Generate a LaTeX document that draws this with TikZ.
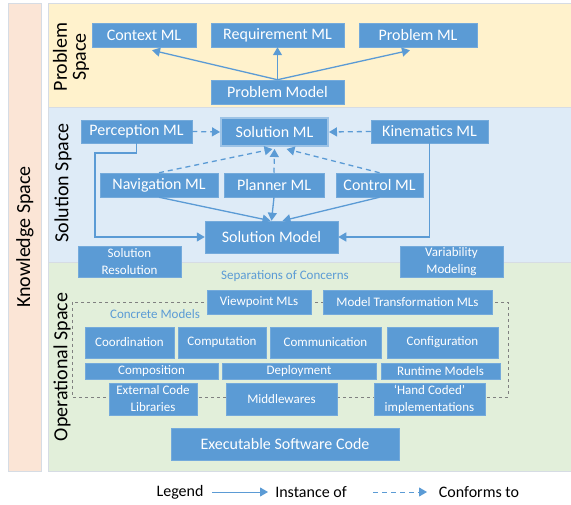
\documentclass[tikz,border=0pt]{standalone}
\usepackage{fontspec}
\setmainfont{Carlito}
\usetikzlibrary{arrows.meta}
\definecolor{nodeblue}{HTML}{5B9BD5}
\definecolor{glowblue}{HTML}{9DC3E6}
\definecolor{probfill}{HTML}{FFF2CC}
\definecolor{solfill}{HTML}{DEEBF7}
\definecolor{opfill}{HTML}{E2EFDA}
\definecolor{knowfill}{HTML}{FBE5D6}
\definecolor{panelline}{HTML}{D6DCE4}
\tikzset{
  box/.style={fill=nodeblue, draw=nodeblue!85!white, line width=0.5pt, text=white,
    inner sep=0pt, align=center, font=\fontsize{16}{18}\selectfont},
  smallbox/.style={box, font=\fontsize{13}{17}\selectfont},
  panel/.style={draw=panelline, line width=0.6pt},
  spacelabel/.style={rotate=90, align=center, font=\fontsize{20}{22}\selectfont},
  inst/.style={draw=nodeblue, line width=1.3pt, -{Triangle[length=8pt,width=9pt]}},
  conf/.style={inst, dash pattern=on 5pt off 4pt},
  hint/.style={text=nodeblue, font=\fontsize{13}{15}\selectfont}
}
\begin{document}
\begin{tikzpicture}[x=1pt,y=-1pt]
\useasboundingbox (0,0) rectangle (571,505);
% spaces
\draw [panel, fill=knowfill] (8,3) rectangle (41,471);
\draw [panel, fill=probfill] (48,3) rectangle (571,107);
\draw [panel, fill=solfill] (48,107) rectangle (571,262);
\draw [panel, fill=opfill] (48,262) rectangle (571,471);
\node [spacelabel] (know) at (25,237) {Knowledge Space};
\node [spacelabel] (problab) at (71,57) {Problem\\[-3pt]Space};
\node [spacelabel] (sollab) at (63,183) {Solution Space};
\node [spacelabel] (oplab) at (62,367) {Operational Space};
% problem space
\node [box, minimum width=104, minimum height=24] (ctx) at (144,35) {Context ML};
\node [box, minimum width=133, minimum height=24] (req) at (277.5,35) {Requirement ML};
\node [box, minimum width=118, minimum height=24] (pml) at (418,35) {Problem ML};
\node [box, minimum width=133, minimum height=24] (probm) at (277.5,92) {Problem Model};
\draw [inst] (probm.north) -- ([xshift=8pt,yshift=-3pt]ctx.south);
\draw [inst] (probm.north) -- (req.south);
\draw [inst] (probm.north) -- ([xshift=-8pt,yshift=-3pt]pml.south);
% solution space
\node [box, minimum width=111, minimum height=23] (perc) at (136.5,131.5) {Perception ML};
\node [box, draw=glowblue, line width=2pt, minimum width=107, minimum height=28] (sol) at (274.5,132) {Solution ML};
\node [box, minimum width=117, minimum height=23] (kin) at (429.5,131.5) {Kinematics ML};
\node [box, minimum width=118, minimum height=24] (nav) at (159,185) {Navigation ML};
\node [box, minimum width=100, minimum height=24] (plan) at (274,185) {Planner ML};
\node [box, minimum width=87, minimum height=24] (ctrl) at (379.5,185) {Control ML};
\node [box, minimum width=133, minimum height=32] (solm) at (271.5,237) {Solution Model};
\node [smallbox, minimum width=103, minimum height=31] (res) at (129.5,261.5) {Solution\\Resolution};
\node [smallbox, minimum width=103, minimum height=31] (var) at (451.5,261.5) {Variability\\Modeling};
\coordinate (pbend) at (95,153);
\draw [conf] (perc.east) -- (sol.west);
\draw [conf] (kin.west) -- (sol.east);
\draw [conf] (nav.north) -- ([xshift=-2pt,yshift=-2pt]sol.south);
\draw [conf] (plan.north) -- ([yshift=-2pt]sol.south);
\draw [conf] (ctrl.north) -- ([xshift=12pt,yshift=-2pt]sol.south);
\draw [inst] (nav.south) -- ([xshift=-1pt]solm.north);
\draw [inst] (plan.south) -- (solm.north);
\draw [inst] (ctrl.south) -- ([xshift=11pt]solm.north);
\draw [inst] (perc.south) |- (pbend) |- (solm.west);
\draw [inst] (kin.south) |- (solm.east);
% operational space
\node [hint] (soc) at (285,276) {Separations of Concerns};
\draw [gray, dashed, line width=0.5pt] (72,302) rectangle (508,397);
\node [smallbox, minimum width=104, minimum height=24] (view) at (259,302) {Viewpoint MLs};
\node [smallbox, minimum width=169, minimum height=24] (mt) at (407.5,302) {Model Transformation MLs};
\node [hint] (conc) at (155,314) {Concrete Models};
\node [smallbox, minimum width=89, minimum height=31] (coord) at (129.5,342.5) {Coordination};
\node [smallbox, minimum width=88, minimum height=31] (comp) at (222,342.5) {Computation};
\node [smallbox, minimum width=111, minimum height=31] (comm) at (325.5,342.5) {Communication};
\node [smallbox, minimum width=111, minimum height=31] (conf) at (442.5,342.5) {Configuration};
\node [smallbox, minimum width=133, minimum height=16] (compo) at (151.5,371) {Composition};
\node [smallbox, minimum width=154, minimum height=16] (depl) at (299,371) {Deployment};
\node [smallbox, minimum width=119, minimum height=16] (rt) at (440.5,371) {Runtime Models};
\node [smallbox, minimum width=88, minimum height=32] (ext) at (153,399) {External Code\\Libraries};
\node [smallbox, minimum width=111, minimum height=32] (mid) at (281.5,399) {Middlewares};
\node [smallbox, minimum width=111, minimum height=32] (hand) at (429.5,399) {‘Hand Coded’\\implementations};
\node [box, minimum width=228, minimum height=32] (exe) at (285,444) {Executable Software Code};
% legend
\node [font=\fontsize{16}{18}\selectfont] (leg) at (180,492) {Legend};
\coordinate (ia) at (212,492); \coordinate (ib) at (268,492);
\coordinate (ca) at (373,492); \coordinate (cb) at (427,492);
\draw [inst, line width=1pt] (ia) -- (ib);
\node [font=\fontsize{16}{18}\selectfont] (instlab) at (311,492) {Instance of};
\draw [conf, line width=1pt] (ca) -- (cb);
\node [font=\fontsize{16}{18}\selectfont] (conflab) at (479,492) {Conforms to};
\end{tikzpicture}
\end{document}
